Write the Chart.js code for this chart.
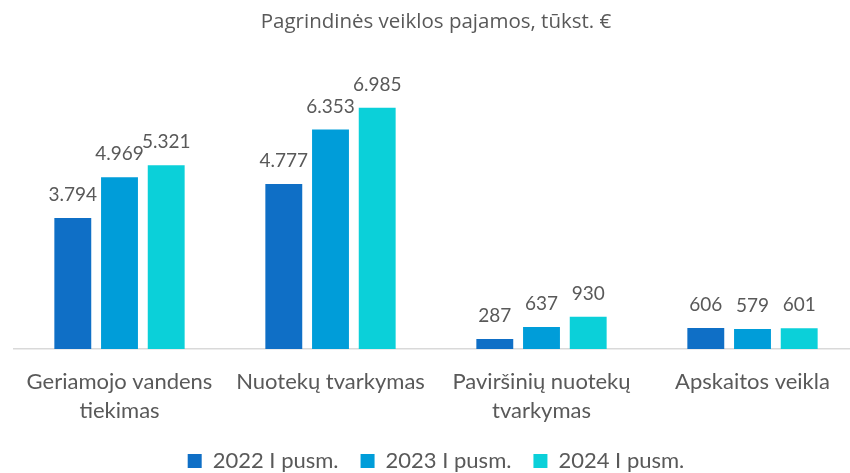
<!DOCTYPE html>
<html>
<head>
<meta charset="utf-8">
<script src="https://cdn.jsdelivr.net/npm/chart.js@4.4.1/dist/chart.umd.min.js"></script>
<style>
html,body{margin:0;padding:0;background:#fff;overflow:hidden;width:850px;height:473px;}
#wrap{position:absolute;left:0;top:0;width:870px;height:483px;}
</style>
</head>
<body>
<div id="wrap"><canvas id="c" width="870" height="483"></canvas></div>
<script>
const categories = [["Geriamojo vandens","tiekimas"],"Nuotekų tvarkymas",["Paviršinių nuotekų","tvarkymas"],"Apskaitos veikla"];
const seriesNames = ["2022 I pusm.","2023 I pusm.","2024 I pusm."];
const values2022 = [3794, 4777, 287, 606];
const values2023 = [4969, 6353, 637, 579];
const values2024 = [5321, 6985, 930, 601];
const seriesColors = ["#0F6FC6","#009DD9","#0BD0D9"];
const titleText = "Pagrindinės veiklos pajamos, tūkst. €";

const textColor = "#595959";

function fmt(v){
  return String(v).replace(/\B(?=(\d{3})+(?!\d))/g, ".");
}

const dataLabelPlugin = {
  id: "dataLabels",
  afterDatasetsDraw(chart){
    const ctx = chart.ctx;
    ctx.save();
    ctx.font = "19px Lato";
    ctx.fillStyle = textColor;
    ctx.textAlign = "center";
    ctx.textBaseline = "middle";
    chart.data.datasets.forEach((ds, di) => {
      const meta = chart.getDatasetMeta(di);
      meta.data.forEach((el, i) => {
        ctx.fillText(fmt(ds.data[i]), el.x, el.y - 23);
      });
    });
    ctx.restore();
  }
};

const allValues = [values2022, values2023, values2024];
new Chart(document.getElementById("c"), {
  type: "bar",
  data: {
    labels: categories,
    datasets: allValues.map((vals, i) => ({
      label: seriesNames[i],
      data: vals,
      backgroundColor: seriesColors[i],
      borderWidth: 0,
      categoryPercentage: 0.664,
      barPercentage: 0.79
    }))
  },
  options: {
    responsive: false,
    animation: false,
    devicePixelRatio: 1,
    layout: { padding: { left: 14, right: 12, top: 0, bottom: 1 } },
    plugins: {
      title: {
        display: true,
        text: titleText,
        color: textColor,
        font: { family: "Open Sans", size: 20.5, weight: "normal" },
        padding: { top: 10, bottom: 38 }
      },
      legend: {
        position: "bottom",
        labels: {
          color: textColor,
          font: { family: "Lato", size: 22 },
          boxWidth: 14,
          boxHeight: 14,
          padding: 22
        }
      },
      tooltip: { enabled: false }
    },
    scales: {
      x: {
        grid: { display: false, drawTicks: false },
        border: { display: true, color: "#D9D9D9", width: 1.5 },
        ticks: {
          color: textColor,
          font: { family: "Lato", size: 22, lineHeight: 1.32 },
          padding: 18.5,
          maxRotation: 0,
          autoSkip: false
        },
        afterFit(scale){ scale.height -= 16; }
      },
      y: {
        display: false,
        min: 0,
        max: 8000
      }
    }
  },
  plugins: [dataLabelPlugin]
});
</script>
</body>
</html>
